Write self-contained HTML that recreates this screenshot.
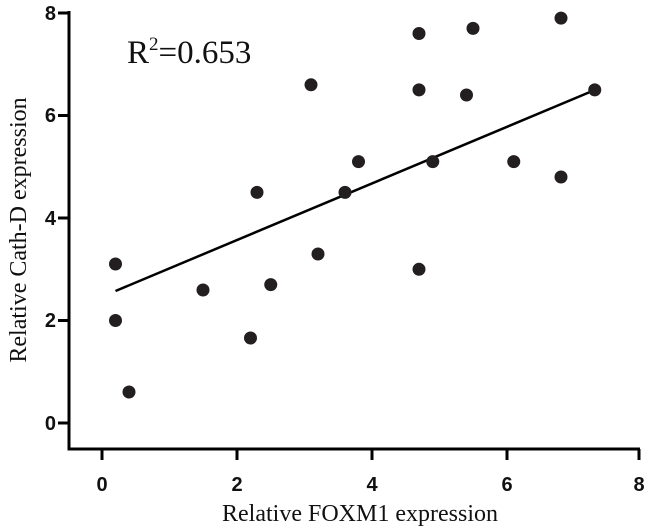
<!DOCTYPE html>
<html><head><style>body{margin:0;background:#fff}svg{display:block}</style></head><body>
<svg width="650" height="528" xmlns="http://www.w3.org/2000/svg">
<g stroke="#000" stroke-width="3" fill="none">
<path d="M69,11 V449 H640"/>
<path d="M58,423H69M58,320.5H69M58,218H69M58,115.5H69M58,13H69"/>
<path d="M102,449V460M237,449V460M372,449V460M507,449V460M639,449V460"/>
</g>
<g font-family="Liberation Sans, sans-serif" font-weight="bold" font-size="20" fill="#111">
<g text-anchor="end"><text x="56" y="430">0</text><text x="56" y="327">2</text><text x="56" y="225">4</text><text x="56" y="122">6</text><text x="56" y="20">8</text></g>
<g text-anchor="middle"><text x="102" y="491">0</text><text x="237" y="491">2</text><text x="372" y="491">4</text><text x="507" y="491">6</text><text x="639" y="491">8</text></g>
</g>
<g font-family="Liberation Serif, serif" fill="#111">
<text x="360" y="521" font-size="24" text-anchor="middle">Relative FOXM1 expression</text>
<text transform="translate(26,230) rotate(-90)" font-size="24" text-anchor="middle">Relative Cath-D expression</text>
<text x="127" y="63" font-size="33">R<tspan font-size="19" dy="-13">2</tspan><tspan dy="13">=0.653</tspan></text>
</g>
<line x1="115.5" y1="291" x2="594.75" y2="90" stroke="#000" stroke-width="2.5"/>
<g fill="#231f20">
<circle cx="115.5" cy="264" r="6.5"/><circle cx="115.5" cy="320.5" r="6.5"/><circle cx="129" cy="392" r="6.5"/>
<circle cx="203" cy="290" r="6.5"/><circle cx="250.5" cy="338" r="6.5"/><circle cx="257" cy="192.4" r="6.5"/>
<circle cx="270.75" cy="284.6" r="6.5"/><circle cx="311" cy="84.8" r="6.5"/><circle cx="318" cy="254" r="6.5"/>
<circle cx="345" cy="192.4" r="6.5"/><circle cx="358.5" cy="161.6" r="6.5"/><circle cx="419" cy="33.5" r="6.5"/>
<circle cx="419" cy="89.9" r="6.5"/><circle cx="419" cy="269.3" r="6.5"/><circle cx="432.75" cy="161.6" r="6.5"/>
<circle cx="466.5" cy="95" r="6.5"/><circle cx="473" cy="28.4" r="6.5"/><circle cx="513.75" cy="161.6" r="6.5"/>
<circle cx="561" cy="18.1" r="6.5"/><circle cx="561" cy="177" r="6.5"/><circle cx="594.75" cy="89.9" r="6.5"/>
</g>
</svg>
</body></html>
